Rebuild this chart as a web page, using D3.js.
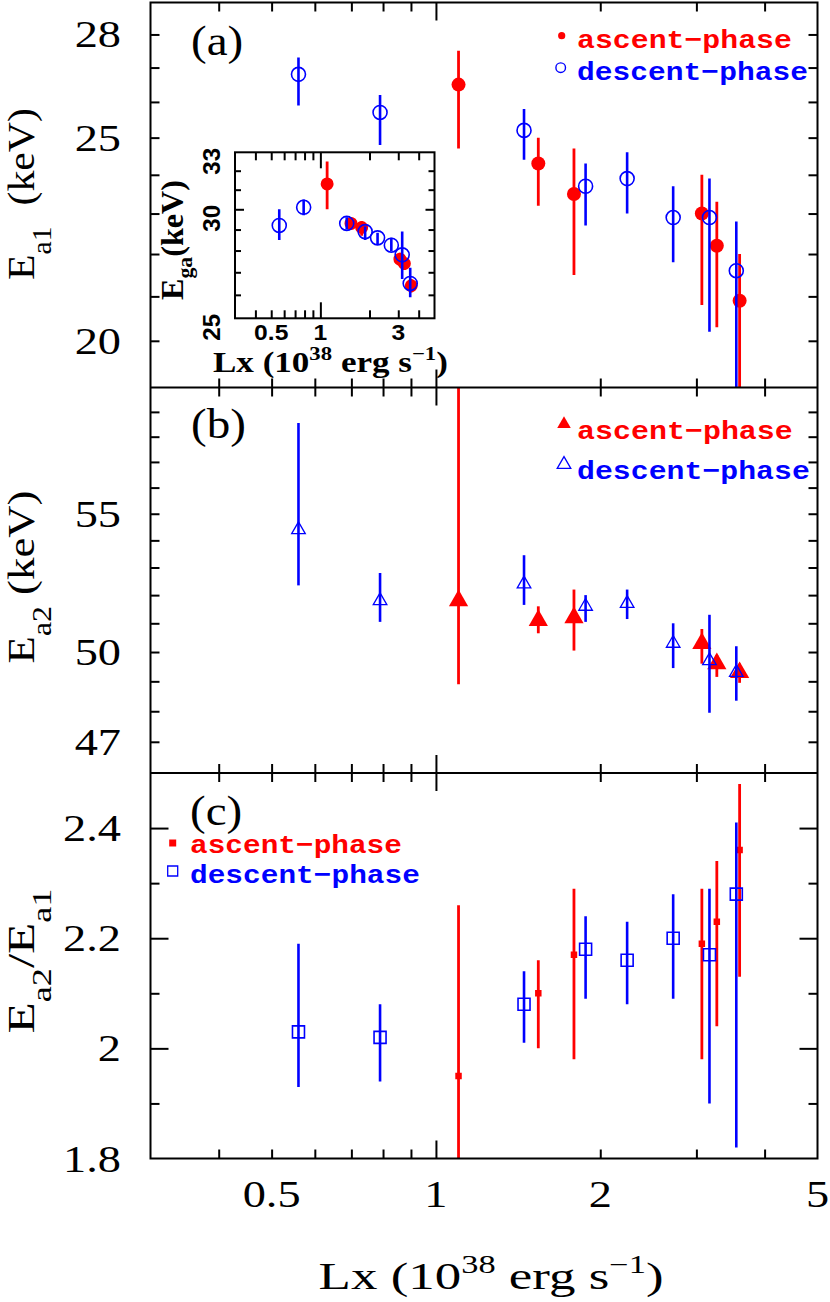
<!DOCTYPE html>
<html>
<head>
<meta charset="utf-8">
<script src="https://cdn.jsdelivr.net/npm/d3@7"></script>
<style>
body { margin: 0; background: #fff; }
</style>
</head>
<body>
<script>
// Lx (10^38 erg/s) of each spectrum, same for every panel
var lxAsc = [1.10, 1.54, 1.79, 3.07, 3.27, 3.60];
var lxDesc = [0.56, 0.79, 1.45, 1.88, 2.24, 2.72, 3.17, 3.55];

// (a) Ea1 in keV, with the ends of the error bars
var ea1Asc = [26.5, 24.3, 23.5, 23.0, 22.2, 20.9];
var ea1AscLo = [24.7, 23.2, 21.5, 20.8, 20.3, 18.5];
var ea1AscHi = [27.5, 25.0, 24.7, 24.0, 23.3, 22.0];
var ea1Desc = [26.8, 25.7, 25.2, 23.7, 23.9, 22.9, 22.9, 21.6];
var ea1DescLo = [25.9, 24.8, 24.4, 22.7, 23.0, 21.8, 20.2, 18.5];
var ea1DescHi = [27.3, 26.2, 25.8, 24.3, 24.6, 23.7, 23.9, 22.8];

// inset: Ega in keV
var egaAsc = [31.3, 29.3, 29.1, 27.6, 27.4, 26.4];
var egaAscLo = [30.0, 29.0, 28.7, 27.3, 27.1, 26.1];
var egaAscHi = [32.5, 29.6, 29.4, 27.9, 27.7, 26.7];
var egaDesc = [29.2, 30.1, 29.3, 28.9, 28.6, 28.25, 27.8, 26.5];
var egaDescLo = [28.5, 29.7, 29.0, 28.5, 28.3, 27.95, 26.7, 25.9];
var egaDescHi = [30.0, 30.5, 29.6, 29.15, 28.85, 28.6, 28.9, 27.2];

// (b) Ea2 in keV
var ea2Asc = [51.8, 51.1, 51.2, 50.3, 49.6, 49.3];
var ea2AscLo = [48.9, 50.65, 50.05, 49.6, 49.15, 48.95];
var ea2AscHi = [62.0, 51.6, 52.2, 50.8, 49.9, 49.6];
var ea2Desc = [54.4, 51.8, 52.4, 51.6, 51.7, 50.3, 49.7, 49.3];
var ea2DescLo = [52.35, 51.05, 51.65, 51.05, 51.15, 49.45, 47.95, 48.35];
var ea2DescHi = [58.55, 52.8, 53.45, 52.0, 52.2, 51.0, 51.3, 50.2];

// (c) Ea2/Ea1
var ratioAsc = [1.95, 2.10, 2.17, 2.19, 2.23, 2.36];
var ratioAscLo = [1.75, 2.00, 1.98, 1.98, 2.04, 2.13];
var ratioAscHi = [2.26, 2.16, 2.29, 2.29, 2.34, 2.48];
var ratioDesc = [2.03, 2.02, 2.08, 2.18, 2.16, 2.20, 2.17, 2.28];
var ratioDescLo = [1.93, 1.94, 2.01, 2.09, 2.08, 2.09, 1.90, 1.82];
var ratioDescHi = [2.19, 2.08, 2.14, 2.24, 2.23, 2.28, 2.29, 2.41];

// ticks
var xTickMinor = [0.4, 0.5, 0.6, 0.7, 0.8, 0.9, 2, 3, 4];
var xTickMajor = [1];
var xLabels = [0.5, 1, 2, 5];
var insetXLabels = [0.5, 1, 3];
var aTicks = [20, 21, 22, 23, 24, 25, 26, 27, 28];
var aLabels = [20, 25, 28];
var bTicks = [47, 48, 49, 50, 51, 52, 53, 54, 55, 56, 57, 58, 59];
var bLabels = [47, 50, 55];
var cTickMinor = [1.9, 2.1, 2.3];
var cTickMajor = [2.0, 2.2, 2.4];
var cLabels = [1.8, 2, 2.2, 2.4];
var insetYTicks = [26, 27, 28, 29, 31, 32];
var insetYLabels = [25, 30, 33];

var RED = "#ff0000", BLUE = "#0000ff";
var SERIF = "'Liberation Serif', 'Times New Roman', Times, serif";
var SANS = "'Liberation Sans', Arial, Helvetica, sans-serif";
var MONO = "'Liberation Mono', 'Courier New', Courier, monospace";

var svg = d3.select("body").append("svg")
  .attr("width", 830)
  .attr("height", 1302);

var L = 150.5, R = 817.5;
var x = d3.scaleLog().domain([0.3, 5]).range([L, R]);
var ya = d3.scaleLog().domain([19, 29]).range([387.5, 2.5]);
var yb = d3.scaleLog().domain([46, 60]).range([773, 387.5]);
var yc = d3.scaleLinear().domain([1.8, 2.5]).range([1158.5, 773]);

var xi = d3.scaleLog().domain([0.3, 5]).range([235, 434.5]);
var yi = d3.scaleLog().domain([25, 33]).range([318.3, 152.3]);

// text with optional sub/superscripts, stretched sideways to match the old plot font
function addText(parent, px, py, parts, o) {
  var g = parent.append("g");
  var t = g.append("text")
    .style("font-family", o.font || SERIF)
    .attr("font-size", o.size)
    .attr("font-weight", o.weight || "normal")
    .attr("fill", o.color || "#000")
    .attr("text-anchor", o.anchor || "start");
  if (typeof parts === "string") parts = [{t: parts}];
  var cur = 0;
  parts.forEach(function(p) {
    var off = p.sup ? -o.size * 0.42 : (p.sub ? o.subShift : 0);
    var sp = t.append("tspan").attr("dy", off - cur).text(p.t);
    if (p.sup) sp.attr("font-size", o.size * 0.65);
    if (p.sub) sp.attr("font-size", o.subSize);
    cur = off;
  });
  var sx = o.sx || 1;
  if (o.width) sx = o.width / t.node().getBBox().width;
  g.attr("transform", "translate(" + px + "," + py + ")" +
    (o.rot ? " rotate(" + o.rot + ")" : "") + " scale(" + sx + ",1)");
  return g;
}

// inward ticks on all four sides
function drawTicks(g, xs, ys, xSets, ySets) {
  var xr = xs.range(), yr = ys.range();
  xSets.forEach(function(s) {
    g.append("g").attr("transform", "translate(0," + yr[0] + ")")
      .call(d3.axisBottom(xs).tickValues(s.vals).tickSize(-s.len).tickFormat(""));
    g.append("g").attr("transform", "translate(0," + yr[1] + ")")
      .call(d3.axisTop(xs).tickValues(s.vals).tickSize(-s.len).tickFormat(""));
  });
  ySets.forEach(function(s) {
    g.append("g").attr("transform", "translate(" + xr[0] + ",0)")
      .call(d3.axisLeft(ys).tickValues(s.vals).tickSize(-s.len).tickFormat(""));
    g.append("g").attr("transform", "translate(" + xr[1] + ",0)")
      .call(d3.axisRight(ys).tickValues(s.vals).tickSize(-s.len).tickFormat(""));
  });
  g.selectAll(".domain").remove();
  g.selectAll(".tick line").attr("stroke", "#000").attr("stroke-width", 2);
}

function clipFor(id, xs, ys) {
  svg.append("clipPath").attr("id", id).append("rect")
    .attr("x", xs.range()[0]).attr("y", ys.range()[1])
    .attr("width", xs.range()[1] - xs.range()[0])
    .attr("height", ys.range()[0] - ys.range()[1]);
  return "url(#" + id + ")";
}

// one series: error bars then markers
function series(g, xs, ys, lx, val, lo, hi, color, bw, marker) {
  var d = lx.map(function(v, i) { return {lx: v, v: val[i], lo: lo[i], hi: hi[i]}; });
  g.selectAll(null).data(d).enter().append("line")
    .attr("x1", function(e) { return xs(e.lx); })
    .attr("x2", function(e) { return xs(e.lx); })
    .attr("y1", function(e) { return ys(e.lo); })
    .attr("y2", function(e) { return ys(e.hi); })
    .attr("stroke", color).attr("stroke-width", bw);
  var m = g.selectAll(null).data(d).enter().append("path")
    .attr("transform", function(e) { return "translate(" + xs(e.lx) + "," + ys(e.v) + ")"; })
    .attr("d", d3.symbol().type(marker.type).size(marker.size));
  if (marker.filled) m.attr("fill", color).attr("stroke", "none");
  else m.attr("fill", "none").attr("stroke", color).attr("stroke-width", marker.sw);
}

// ---- panel (a)
var ga = svg.append("g").attr("clip-path", clipFor("clipA", x, ya));
series(ga, x, ya, lxAsc, ea1Asc, ea1AscLo, ea1AscHi, RED, 2.8, {type: d3.symbolCircle, size: Math.PI * 49, filled: true});
series(ga, x, ya, lxDesc, ea1Desc, ea1DescLo, ea1DescHi, BLUE, 2.6, {type: d3.symbolCircle, size: Math.PI * 49, sw: 1.6});
drawTicks(svg.append("g"), x, ya,
  [{vals: xTickMinor, len: 9}, {vals: xTickMajor, len: 18}],
  [{vals: aTicks, len: 9}]);

// ---- panel (b)
var gb = svg.append("g").attr("clip-path", clipFor("clipB", x, yb));
series(gb, x, yb, lxAsc, ea2Asc, ea2AscLo, ea2AscHi, RED, 2.8, {type: d3.symbolTriangle, size: 160, filled: true});
series(gb, x, yb, lxDesc, ea2Desc, ea2DescLo, ea2DescHi, BLUE, 2.6, {type: d3.symbolTriangle, size: 80, sw: 1.3});
drawTicks(svg.append("g"), x, yb,
  [{vals: xTickMinor, len: 9}, {vals: xTickMajor, len: 18}],
  [{vals: bTicks, len: 9}]);

// ---- panel (c)
var gc = svg.append("g").attr("clip-path", clipFor("clipC", x, yc));
series(gc, x, yc, lxAsc, ratioAsc, ratioAscLo, ratioAscHi, RED, 2.8, {type: d3.symbolSquare, size: 42, filled: true});
series(gc, x, yc, lxDesc, ratioDesc, ratioDescLo, ratioDescHi, BLUE, 2.6, {type: d3.symbolSquare, size: 144, sw: 1.6});
drawTicks(svg.append("g"), x, yc,
  [{vals: xTickMinor, len: 9}, {vals: xTickMajor, len: 18}],
  [{vals: cTickMinor, len: 9}, {vals: cTickMajor, len: 18}]);

// frames
svg.append("rect").attr("x", L).attr("y", ya.range()[1])
  .attr("width", R - L).attr("height", yc.range()[0] - ya.range()[1])
  .attr("fill", "none").attr("stroke", "#000").attr("stroke-width", 2);
[ya.range()[0], yb.range()[0]].forEach(function(yy) {
  svg.append("line").attr("x1", L).attr("x2", R).attr("y1", yy).attr("y2", yy)
    .attr("stroke", "#000").attr("stroke-width", 2);
});

// ---- inset
svg.append("rect").attr("x", xi.range()[0]).attr("y", yi.range()[1])
  .attr("width", xi.range()[1] - xi.range()[0]).attr("height", yi.range()[0] - yi.range()[1])
  .attr("fill", "#fff");
var gi = svg.append("g").attr("clip-path", clipFor("clipI", xi, yi));
series(gi, xi, yi, lxAsc, egaAsc, egaAscLo, egaAscHi, RED, 2.8, {type: d3.symbolCircle, size: Math.PI * 42, filled: true});
series(gi, xi, yi, lxDesc, egaDesc, egaDescLo, egaDescHi, BLUE, 2.6, {type: d3.symbolCircle, size: Math.PI * 49, sw: 1.6});
drawTicks(svg.append("g"), xi, yi,
  [{vals: xTickMinor, len: 8}, {vals: xTickMajor, len: 16}],
  [{vals: insetYTicks, len: 6}, {vals: [30], len: 9}]);
svg.append("rect").attr("x", xi.range()[0]).attr("y", yi.range()[1])
  .attr("width", xi.range()[1] - xi.range()[0]).attr("height", yi.range()[0] - yi.range()[1])
  .attr("fill", "none").attr("stroke", "#000").attr("stroke-width", 2);

insetXLabels.forEach(function(v) {
  addText(svg, xi(v), 340, String(v), {font: SANS, weight: "bold", size: 22, anchor: "middle", sx: 1.12});
});
insetYLabels.forEach(function(v) {
  addText(svg, 220, yi(v) + 9, String(v), {font: SANS, weight: "bold", size: 23, anchor: "middle", rot: -90, sx: 1.05});
});
addText(svg, 213, 372, [{t: "Lx (10"}, {t: "38", sup: true}, {t: " erg s"}, {t: "\u22121", sup: true}, {t: ")"}],
  {weight: "bold", size: 29, width: 235});
addText(svg, 183, 240, [{t: "E"}, {t: "ga", sub: true}, {t: "(keV)"}],
  {weight: "bold", size: 31, subSize: 21, subShift: 9, anchor: "middle", rot: -90, width: 120});

// ---- tick labels of the main plot
xLabels.forEach(function(v) {
  addText(svg, x(v), 1206.5, String(v), {size: 38, anchor: "middle", sx: 1.22});
});
aLabels.forEach(function(v) {
  addText(svg, 121, ya(v) + 13, String(v), {size: 38, anchor: "end", sx: 1.22});
});
bLabels.forEach(function(v) {
  addText(svg, 121, yb(v) + 13, String(v), {size: 38, anchor: "end", sx: 1.22});
});
cLabels.forEach(function(v) {
  addText(svg, 121, yc(v) + 13, String(v), {size: 38, anchor: "end", sx: 1.22});
});

// axis titles
addText(svg, 318.6, 1289, [{t: "Lx (10"}, {t: "38", sup: true}, {t: " erg s"}, {t: "\u22121", sup: true}, {t: ")"}],
  {size: 38, width: 345});
addText(svg, 34, 194, [{t: "E"}, {t: "a1", sub: true}, {t: "\u00a0\u00a0(keV)"}],
  {size: 38, subSize: 27, subShift: 17, anchor: "middle", rot: -90, width: 172});
addText(svg, 34, 577, [{t: "E"}, {t: "a2", sub: true}, {t: "\u00a0(keV)"}],
  {size: 38, subSize: 27, subShift: 17, anchor: "middle", rot: -90, width: 173});
addText(svg, 34, 961, [{t: "E"}, {t: "a2", sub: true}, {t: "/E"}, {t: "a1", sub: true}],
  {size: 38, subSize: 27, subShift: 17, anchor: "middle", rot: -90, width: 145});

// panel letters
addText(svg, 191, 55, "(a)", {size: 42, sx: 1.12});
addText(svg, 191, 438, "(b)", {size: 42, sx: 1.12});
addText(svg, 190, 825, "(c)", {size: 42, sx: 1.12});

// ---- legends
function legendText(px, py, str, color, w) {
  addText(svg, px, py, str, {font: MONO, weight: "bold", size: 26, color: color, width: w});
}
// (a)
svg.append("circle").attr("cx", 561.7).attr("cy", 35.7).attr("r", 3.6).attr("fill", RED);
svg.append("circle").attr("cx", 560.7).attr("cy", 67.7).attr("r", 4.8)
  .attr("fill", "none").attr("stroke", BLUE).attr("stroke-width", 1.4);
legendText(577, 48.3, "ascent\u2212phase", RED, 215);
legendText(577, 80, "descent\u2212phase", BLUE, 231);
// (b)
svg.append("path").attr("transform", "translate(564,424)")
  .attr("d", d3.symbol().type(d3.symbolTriangle).size(80)).attr("fill", RED);
svg.append("path").attr("transform", "translate(564,464.5)")
  .attr("d", d3.symbol().type(d3.symbolTriangle).size(80))
  .attr("fill", "none").attr("stroke", BLUE).attr("stroke-width", 1.3);
legendText(577, 439, "ascent\u2212phase", RED, 216);
legendText(577, 479, "descent\u2212phase", BLUE, 233);
// (c)
svg.append("path").attr("transform", "translate(172.7,843)")
  .attr("d", d3.symbol().type(d3.symbolSquare).size(49)).attr("fill", RED);
svg.append("path").attr("transform", "translate(172.7,871)")
  .attr("d", d3.symbol().type(d3.symbolSquare).size(100))
  .attr("fill", "none").attr("stroke", BLUE).attr("stroke-width", 1.3);
legendText(190, 853, "ascent\u2212phase", RED, 212);
legendText(190, 883, "descent\u2212phase", BLUE, 230);
</script>
</body>
</html>
